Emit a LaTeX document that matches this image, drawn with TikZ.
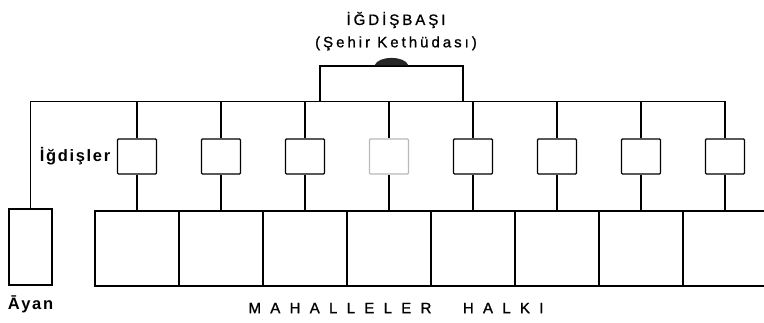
\documentclass[tikz,border=0pt]{standalone}
\usepackage{fontspec}
\setmainfont{Liberation Sans}
\newfontfamily\aralikli[LetterSpace=20, FakeBold=1]{Liberation Sans}
\newfontfamily\kalin[LetterSpace=10]{Liberation Sans}
\newfontfamily\genis[LetterSpace=62, FakeBold=1.2]{Liberation Sans}
\usetikzlibrary{positioning}

\begin{document}
\begin{tikzpicture}[x=1pt, y=-1pt, line width=1.3pt, node distance=4pt,
	kutu/.style={draw, rectangle, minimum width=39pt, minimum height=35pt, inner sep=0pt, rounded corners=1pt},
	mahalle/.style={draw, rectangle, minimum width=84pt, minimum height=75pt, inner sep=0pt},
	yazi/.style={draw=none, inner sep=1pt, font=\fontsize{15}{17}\selectfont\aralikli},
	etiket/.style={draw=none, inner sep=1pt, font=\fontsize{16.5}{18}\selectfont\kalin\bfseries}]
	\useasboundingbox (0,0) rectangle (764,322);

	\node[yazi] (baslik) at (396,20) {İĞDİŞBAŞI};
	\node[yazi, below=5pt of baslik] (unvan) {(Şehir Kethüdası)};
	\node[draw, minimum width=143pt, minimum height=35.5pt, inner sep=0pt] (bas) at (391.5,83.75) {};
	\fill[black!85] ([xshift=-17pt]bas.north) .. controls +(4,-10) and +(-4,-10) .. ([xshift=17pt]bas.north) -- cycle;

	\node[draw, minimum width=43pt, minimum height=76pt, inner sep=0pt] (ayan) at (30.5,247) {};
	\coordinate (hat) at (400,101.5);

	\foreach \i/\renk in {1/black,2/black,3/black,4/gray!55,5/black,6/black,7/black,8/black} {
		\node[kutu, draw=\renk] (k\i) at (137+84*\i-84,156.5) {};
		\node[mahalle] (m\i) at (137+84*\i-84,248.5) {};
		\draw (k\i.south) -- (m\i.north);
	}
	\foreach \i in {1,...,7}
		\draw (k\i.north |- hat) -- (k\i.north);
	\draw (ayan.north) |- (hat) -| (k8.north);

	\node[etiket, left=5pt of k1] (igdisler) {İğdişler};
	\node[etiket, below=8pt of ayan] (ayanyazi) {Āyan};
	\node[yazi, font=\fontsize{15}{17}\selectfont\genis] (halk) at (396,308) {MAHALLELER\hspace{18pt} HALKI};
\end{tikzpicture}
\end{document}
